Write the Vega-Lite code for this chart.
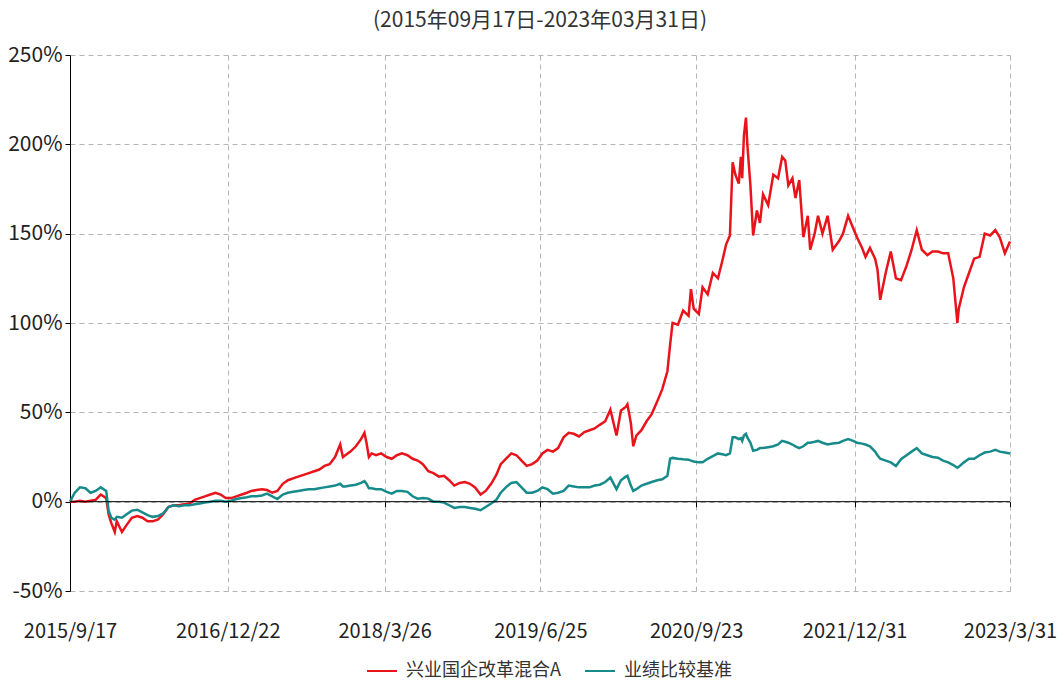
{
  "$schema": "https://vega.github.io/schema/vega-lite/v6.json",
  "width": 940,
  "height": 536,
  "autosize": {"type": "none"},
  "padding": {"left": 70, "top": 55, "right": 47, "bottom": 92},
  "background": "white",
  "title": {"text": "(2015年09月17日-2023年03月31日)", "fontSize": 21, "font": "Noto Sans CJK SC", "fontWeight": "normal", "color": "#333333", "offset": 13, "anchor": "middle"},
  "config": {"view": {"stroke": null}},
  "data": {"values": [
    {"d":"2015-09-17","A":0,"B":0},
    {"d":"2015-10-01","A":0,"B":5},
    {"d":"2015-10-16","A":0.5,"B":8},
    {"d":"2015-11-01","A":0,"B":7.5},
    {"d":"2015-11-16","A":0.5,"B":5},
    {"d":"2015-12-01","A":1,"B":6},
    {"d":"2015-12-16","A":4,"B":8},
    {"d":"2016-01-01","A":2,"B":6},
    {"d":"2016-01-08","A":-7,"B":-5},
    {"d":"2016-01-16","A":-12,"B":-9},
    {"d":"2016-01-26","A":-17,"B":-10},
    {"d":"2016-02-01","A":-11,"B":-8.5},
    {"d":"2016-02-16","A":-17,"B":-9},
    {"d":"2016-03-01","A":-13,"B":-7},
    {"d":"2016-03-16","A":-9,"B":-5},
    {"d":"2016-04-01","A":-8,"B":-4.5},
    {"d":"2016-04-16","A":-9,"B":-6},
    {"d":"2016-05-01","A":-11,"B":-7.5},
    {"d":"2016-05-16","A":-11,"B":-8.5},
    {"d":"2016-06-01","A":-10,"B":-8},
    {"d":"2016-06-16","A":-7,"B":-6.5},
    {"d":"2016-07-01","A":-3,"B":-3},
    {"d":"2016-07-16","A":-2,"B":-2},
    {"d":"2016-08-01","A":-2,"B":-2.5},
    {"d":"2016-08-16","A":-1.5,"B":-2},
    {"d":"2016-09-01","A":-1,"B":-2},
    {"d":"2016-09-16","A":1,"B":-1.5},
    {"d":"2016-10-01","A":2,"B":-1},
    {"d":"2016-10-16","A":3,"B":-0.5},
    {"d":"2016-11-01","A":4,"B":0},
    {"d":"2016-11-16","A":5,"B":0.5},
    {"d":"2016-12-01","A":4,"B":0.5},
    {"d":"2016-12-16","A":2,"B":0},
    {"d":"2017-01-01","A":2,"B":0.5},
    {"d":"2017-01-16","A":3,"B":1.5},
    {"d":"2017-02-01","A":4,"B":2},
    {"d":"2017-02-16","A":5,"B":2.5},
    {"d":"2017-03-01","A":6,"B":3},
    {"d":"2017-03-16","A":6.5,"B":3},
    {"d":"2017-04-01","A":7,"B":3.5},
    {"d":"2017-04-16","A":6.5,"B":4.5},
    {"d":"2017-05-01","A":5,"B":3},
    {"d":"2017-05-16","A":6,"B":1.5},
    {"d":"2017-06-01","A":10,"B":4},
    {"d":"2017-06-16","A":12,"B":5},
    {"d":"2017-07-01","A":13,"B":5.5},
    {"d":"2017-07-16","A":14,"B":6},
    {"d":"2017-08-01","A":15,"B":6.5},
    {"d":"2017-08-16","A":16,"B":7},
    {"d":"2017-09-01","A":17,"B":7},
    {"d":"2017-09-16","A":18,"B":7.5},
    {"d":"2017-10-01","A":20,"B":8},
    {"d":"2017-10-16","A":21,"B":8.5},
    {"d":"2017-11-01","A":25,"B":9},
    {"d":"2017-11-16","A":32,"B":10},
    {"d":"2017-11-24","A":25,"B":8.5},
    {"d":"2017-12-01","A":26,"B":8.5},
    {"d":"2017-12-16","A":28,"B":9},
    {"d":"2018-01-01","A":31,"B":9.5},
    {"d":"2018-01-16","A":35,"B":10.5},
    {"d":"2018-01-26","A":38.5,"B":11.5},
    {"d":"2018-02-01","A":33,"B":10},
    {"d":"2018-02-08","A":25,"B":7.5},
    {"d":"2018-02-16","A":27,"B":7.5},
    {"d":"2018-03-01","A":26,"B":7},
    {"d":"2018-03-16","A":27,"B":7},
    {"d":"2018-04-01","A":25,"B":5.5},
    {"d":"2018-04-16","A":24,"B":4.5},
    {"d":"2018-05-01","A":26,"B":6},
    {"d":"2018-05-16","A":27,"B":6},
    {"d":"2018-06-01","A":26,"B":5.5},
    {"d":"2018-06-16","A":24,"B":3},
    {"d":"2018-07-01","A":23,"B":1.7},
    {"d":"2018-07-16","A":21,"B":2},
    {"d":"2018-08-01","A":17,"B":1.7},
    {"d":"2018-08-16","A":16,"B":0},
    {"d":"2018-09-01","A":14,"B":0},
    {"d":"2018-09-16","A":14.5,"B":-0.5},
    {"d":"2018-10-01","A":12,"B":-2},
    {"d":"2018-10-16","A":9,"B":-3.5},
    {"d":"2018-11-01","A":10.5,"B":-3},
    {"d":"2018-11-16","A":11,"B":-3},
    {"d":"2018-12-01","A":10,"B":-3.5},
    {"d":"2018-12-16","A":8,"B":-4},
    {"d":"2019-01-01","A":4,"B":-4.8},
    {"d":"2019-01-16","A":6,"B":-3},
    {"d":"2019-02-01","A":10,"B":-1},
    {"d":"2019-02-16","A":15,"B":1},
    {"d":"2019-03-01","A":21,"B":5},
    {"d":"2019-03-16","A":24,"B":8},
    {"d":"2019-04-01","A":27,"B":10.5},
    {"d":"2019-04-16","A":26,"B":11},
    {"d":"2019-05-01","A":23,"B":8},
    {"d":"2019-05-16","A":20,"B":5},
    {"d":"2019-06-01","A":21,"B":5},
    {"d":"2019-06-16","A":23,"B":6},
    {"d":"2019-07-01","A":27,"B":8},
    {"d":"2019-07-16","A":29,"B":7},
    {"d":"2019-08-01","A":28,"B":4.5},
    {"d":"2019-08-16","A":30,"B":5},
    {"d":"2019-09-01","A":36,"B":6},
    {"d":"2019-09-16","A":38.5,"B":9},
    {"d":"2019-10-01","A":38,"B":8.5},
    {"d":"2019-10-16","A":36.5,"B":8},
    {"d":"2019-11-01","A":39,"B":8},
    {"d":"2019-11-16","A":40,"B":8},
    {"d":"2019-12-01","A":41,"B":9},
    {"d":"2019-12-16","A":43,"B":9.5},
    {"d":"2020-01-01","A":45,"B":11},
    {"d":"2020-01-16","A":51.5,"B":13.5},
    {"d":"2020-02-03","A":37,"B":7},
    {"d":"2020-02-16","A":51,"B":12},
    {"d":"2020-03-01","A":53,"B":14},
    {"d":"2020-03-06","A":54.5,"B":14.5},
    {"d":"2020-03-16","A":44,"B":9},
    {"d":"2020-03-23","A":31,"B":6},
    {"d":"2020-04-01","A":37,"B":7},
    {"d":"2020-04-16","A":40,"B":9},
    {"d":"2020-05-01","A":45,"B":10},
    {"d":"2020-05-16","A":49,"B":11},
    {"d":"2020-06-01","A":56,"B":12},
    {"d":"2020-06-16","A":63,"B":12.5},
    {"d":"2020-07-01","A":73,"B":14.5},
    {"d":"2020-07-09","A":88,"B":24},
    {"d":"2020-07-16","A":100,"B":24.5},
    {"d":"2020-08-01","A":99,"B":24},
    {"d":"2020-08-16","A":107,"B":23.7},
    {"d":"2020-09-01","A":104,"B":23.5},
    {"d":"2020-09-08","A":119,"B":23},
    {"d":"2020-09-16","A":108,"B":22.5},
    {"d":"2020-10-01","A":105,"B":22},
    {"d":"2020-10-12","A":120,"B":22},
    {"d":"2020-10-27","A":116,"B":24},
    {"d":"2020-11-11","A":128,"B":25.5},
    {"d":"2020-11-26","A":125,"B":27},
    {"d":"2020-12-09","A":135,"B":26.5},
    {"d":"2020-12-20","A":144,"B":26},
    {"d":"2020-12-31","A":149,"B":27},
    {"d":"2021-01-08","A":190,"B":36},
    {"d":"2021-01-16","A":183,"B":36},
    {"d":"2021-01-26","A":178,"B":35},
    {"d":"2021-02-01","A":193,"B":35.5},
    {"d":"2021-02-05","A":181,"B":34},
    {"d":"2021-02-10","A":205,"B":37},
    {"d":"2021-02-16","A":215,"B":38},
    {"d":"2021-02-20","A":200,"B":36},
    {"d":"2021-03-01","A":177,"B":33},
    {"d":"2021-03-09","A":149,"B":28.5},
    {"d":"2021-03-20","A":163,"B":29},
    {"d":"2021-03-29","A":156,"B":30},
    {"d":"2021-04-07","A":172,"B":30},
    {"d":"2021-04-22","A":166,"B":30.5},
    {"d":"2021-05-07","A":183,"B":31},
    {"d":"2021-05-21","A":181,"B":32},
    {"d":"2021-06-02","A":193,"B":34},
    {"d":"2021-06-11","A":191,"B":33.5},
    {"d":"2021-06-20","A":177,"B":33},
    {"d":"2021-07-02","A":181,"B":32},
    {"d":"2021-07-11","A":170,"B":31},
    {"d":"2021-07-22","A":180,"B":30},
    {"d":"2021-08-03","A":148,"B":31},
    {"d":"2021-08-16","A":160,"B":33},
    {"d":"2021-08-23","A":141,"B":33},
    {"d":"2021-09-05","A":150,"B":33.5},
    {"d":"2021-09-15","A":160,"B":34},
    {"d":"2021-09-28","A":150,"B":33},
    {"d":"2021-10-13","A":160,"B":32},
    {"d":"2021-10-28","A":141,"B":32.5},
    {"d":"2021-11-16","A":146,"B":33},
    {"d":"2021-11-27","A":150,"B":34},
    {"d":"2021-12-12","A":160,"B":35},
    {"d":"2021-12-27","A":153,"B":34},
    {"d":"2022-01-07","A":148,"B":33},
    {"d":"2022-01-22","A":142,"B":32.5},
    {"d":"2022-02-01","A":137,"B":32},
    {"d":"2022-02-14","A":142,"B":31},
    {"d":"2022-03-01","A":136,"B":28},
    {"d":"2022-03-08","A":130,"B":26},
    {"d":"2022-03-16","A":113,"B":24},
    {"d":"2022-04-01","A":128,"B":23},
    {"d":"2022-04-16","A":140,"B":22},
    {"d":"2022-05-01","A":125,"B":20},
    {"d":"2022-05-16","A":124,"B":23.8},
    {"d":"2022-06-01","A":132,"B":26},
    {"d":"2022-06-16","A":141,"B":28},
    {"d":"2022-07-01","A":152,"B":30},
    {"d":"2022-07-16","A":141,"B":27},
    {"d":"2022-08-01","A":138,"B":26},
    {"d":"2022-08-16","A":140,"B":25},
    {"d":"2022-09-01","A":140,"B":24.6},
    {"d":"2022-09-16","A":139,"B":23},
    {"d":"2022-10-01","A":139,"B":22},
    {"d":"2022-10-16","A":125,"B":20.5},
    {"d":"2022-10-28","A":100,"B":19},
    {"d":"2022-11-01","A":108,"B":19.5},
    {"d":"2022-11-16","A":120,"B":22},
    {"d":"2022-12-01","A":128,"B":24},
    {"d":"2022-12-16","A":136,"B":24},
    {"d":"2023-01-01","A":137,"B":26},
    {"d":"2023-01-16","A":150,"B":27.5},
    {"d":"2023-02-01","A":149,"B":28},
    {"d":"2023-02-16","A":152,"B":29},
    {"d":"2023-03-01","A":148,"B":28},
    {"d":"2023-03-16","A":139,"B":27.5},
    {"d":"2023-03-31","A":145.6,"B":27}
  ]},
  "transform": [{"fold": ["A", "B"], "as": ["s", "v"]}],
  "layer": [
    {
      "mark": {"type": "line", "strokeWidth": 2.5},
      "encoding": {
        "x": {
          "field": "d", "type": "temporal",
          "scale": {"type": "utc", "nice": false, "domain": [{"year": 2015, "month": 9, "date": 17, "utc": true}, {"year": 2023, "month": 3, "date": 31, "utc": true}]},
          "axis": {
            "title": null, "orient": "bottom",
            "values": [
              {"year": 2015, "month": 9, "date": 17, "utc": true},
              {"year": 2016, "month": 12, "date": 22, "utc": true},
              {"year": 2018, "month": 3, "date": 26, "utc": true},
              {"year": 2019, "month": 6, "date": 25, "utc": true},
              {"year": 2020, "month": 9, "date": 23, "utc": true},
              {"year": 2021, "month": 12, "date": 31, "utc": true},
              {"year": 2023, "month": 3, "date": 31, "utc": true}
            ],
            "format": "%Y/%-m/%-d",
            "domain": false, "ticks": false,
            "grid": true, "gridColor": "#b5b5b5", "gridDash": [5, 4], "gridWidth": 1,
            "labelFont": "Noto Sans CJK SC", "labelFontSize": 20, "labelColor": "#222222",
            "labelPadding": 30, "labelOverlap": false, "labelFlush": false
          }
        },
        "y": {
          "field": "v", "type": "quantitative",
          "scale": {"domain": [-50, 250], "nice": false},
          "axis": {
            "title": null,
            "values": [-50, 0, 50, 100, 150, 200, 250],
            "labelExpr": "datum.value + '%'",
            "domain": true, "domainColor": "#000000", "domainWidth": 1,
            "ticks": true, "tickColor": "#000000", "tickSize": 5,
            "grid": true, "gridColor": "#b5b5b5", "gridDash": [5, 4], "gridWidth": 1,
            "labelFont": "Noto Sans CJK SC", "labelFontSize": 21, "labelColor": "#222222",
            "labelPadding": 3
          }
        },
        "color": {
          "field": "s", "type": "nominal",
          "scale": {"domain": ["A", "B"], "range": ["#e8141c", "#178b8b"]},
          "legend": {
            "title": null, "orient": "none", "legendX": 296, "legendY": 600, "direction": "horizontal",
            "symbolType": "stroke", "symbolSize": 900, "symbolStrokeWidth": 2,
            "labelExpr": "datum.label == 'A' ? '兴业国企改革混合A' : '业绩比较基准'",
            "labelFont": "Noto Sans CJK SC", "labelFontSize": 18, "labelColor": "#333333",
            "labelOffset": 8, "columnPadding": 20
          }
        }
      }
    },
    {
      "mark": {"type": "rule", "color": "#000000", "strokeWidth": 1},
      "encoding": {
        "y": {"datum": 0, "type": "quantitative"},
        "x": {
          "aggregate": "min", "field": "d", "type": "temporal",
          "axis": {
            "title": null, "orient": "bottom", "offset": -89.33, "labels": false, "domain": false, "grid": false,
            "ticks": true, "tickColor": "#000000", "tickSize": 5,
            "values": [
              {"year": 2015, "month": 9, "date": 17, "utc": true},
              {"year": 2016, "month": 12, "date": 22, "utc": true},
              {"year": 2018, "month": 3, "date": 26, "utc": true},
              {"year": 2019, "month": 6, "date": 25, "utc": true},
              {"year": 2020, "month": 9, "date": 23, "utc": true},
              {"year": 2021, "month": 12, "date": 31, "utc": true},
              {"year": 2023, "month": 3, "date": 31, "utc": true}
            ]
          }
        },
        "x2": {"aggregate": "max", "field": "d"}
      }
    }
  ],
  "resolve": {"axis": {"x": "independent"}}
}
